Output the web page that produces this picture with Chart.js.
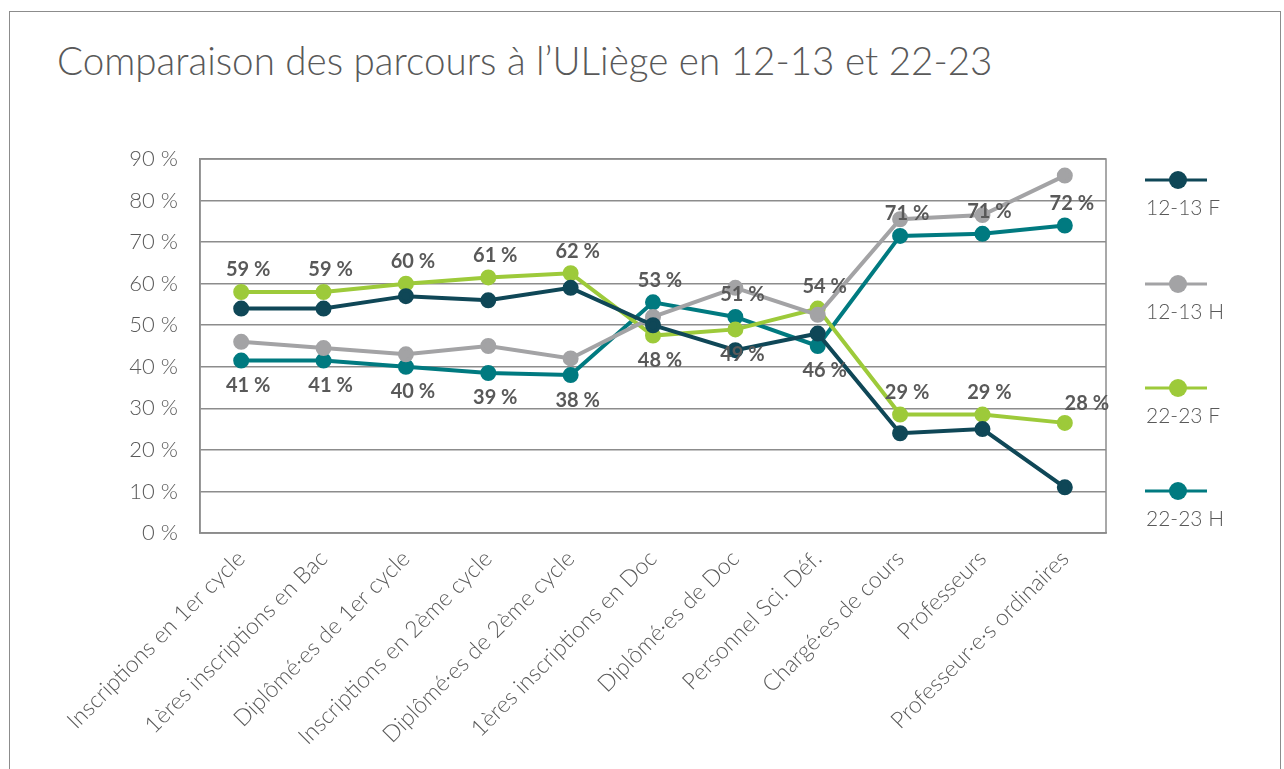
<!DOCTYPE html>
<html>
<head>
<meta charset="utf-8">
<script src="https://cdn.jsdelivr.net/npm/chart.js@4/dist/chart.umd.min.js"></script>
<style>
  html, body { margin: 0; padding: 0; background: #fff; }
  body { width: 1284px; height: 769px; position: relative; overflow: hidden; }
  #frame { position: absolute; left: 9px; top: 11px; width: 1270px; height: 800px; border: 1px solid #8c8c8c; }
  #title { position: absolute; left: 57px; top: 37px; font-family: Lato, sans-serif; font-weight: 300;
           font-size: 38.6px; color: #595959; white-space: nowrap; }
  #wrap { position: absolute; left: 0; top: 0; width: 1284px; height: 769px; }
</style>
</head>
<body>
<div id="frame"></div>
<div id="title">Comparaison des parcours à l’ULiège en 12-13 et 22-23</div>
<div id="wrap"><canvas id="chart" width="1284" height="769"></canvas></div>
<script>
const categories = [
    'Inscriptions en 1er cycle',
    '1ères inscriptions en Bac',
    'Diplômé·es de 1er cycle',
    'Inscriptions en 2ème cycle',
    'Diplômé·es de 2ème cycle',
    '1ères inscriptions en Doc',
    'Diplômé·es de Doc',
    'Personnel Sci. Déf.',
    'Chargé·es de cours',
    'Professeurs',
    'Professeur·e·s ordinaires'
];

const f1213 = [54, 54, 57, 56, 59, 50, 44, 48, 24, 25, 11];
const h1213 = [46, 44.5, 43, 45, 42, 52, 59, 52.5, 75.5, 76.5, 86];
const f2223 = [58, 58, 60, 61.5, 62.5, 47.5, 49, 54, 28.5, 28.5, 26.5];
const h2223 = [41.5, 41.5, 40, 38.5, 38, 55.5, 52, 45, 71.5, 72, 74];

// value labels as printed on the chart
const f2223Labels = ['59 %', '59 %', '60 %', '61 %', '62 %', '48 %', '49 %', '54 %', '29 %', '29 %', '28 %'];
const h2223Labels = ['41 %', '41 %', '40 %', '39 %', '38 %', '53 %', '51 %', '46 %', '71 %', '71 %', '72 %'];

const yTicks = [0, 10, 20, 30, 40, 50, 60, 70, 80, 90];

const C_DARK = '#0f4757';
const C_GREY = '#a3a3a5';
const C_GREEN = '#9dca3a';
const C_TEAL = '#007a80';
const TEXT = '#595959';

function series(label, data, color, labels, place) {
    return {
        label: label,
        data: data,
        borderColor: color,
        backgroundColor: color,
        pointBackgroundColor: color,
        pointBorderColor: color,
        borderWidth: 4,
        pointRadius: 6,
        pointHoverRadius: 6,
        tension: 0,
        valueLabels: labels,
        labelPlace: place
    };
}

// t = above, b = below, tr = above right
const greenPlace = ['t', 't', 't', 't', 't', 'b', 'b', 't', 't', 't', 'tr'];
const tealPlace = ['b', 'b', 'b', 'b', 'b', 't', 't', 'b', 't', 't', 't'];

const valueLabels = {
    id: 'valueLabels',
    afterDatasetsDraw(chart) {
        const ctx = chart.ctx;
        ctx.save();
        ctx.font = 'bold 20px Lato, sans-serif';
        ctx.fillStyle = TEXT;
        ctx.textAlign = 'center';
        ctx.textBaseline = 'middle';
        chart.data.datasets.forEach((ds, i) => {
            if (!ds.valueLabels) return;
            const meta = chart.getDatasetMeta(i);
            meta.data.forEach((pt, j) => {
                const p = ds.labelPlace[j];
                let dx = 7, dy = -22;
                if (p === 'b') dy = 25;
                if (p === 'tr') { dx = 22; dy = -19; }
                ctx.fillText(ds.valueLabels[j], pt.x + dx, pt.y + dy);
            });
        });
        ctx.restore();
    }
};

const sideLegend = {
    id: 'sideLegend',
    afterDraw(chart) {
        const ctx = chart.ctx;
        const rows = [180, 284, 388, 491];
        ctx.save();
        chart.data.datasets.forEach((ds, i) => {
            const y = rows[i];
            ctx.strokeStyle = ds.borderColor;
            ctx.lineWidth = 3;
            ctx.beginPath();
            ctx.moveTo(1145, y);
            ctx.lineTo(1207, y);
            ctx.stroke();
            ctx.fillStyle = ds.borderColor;
            ctx.beginPath();
            ctx.arc(1178, y, 9, 0, Math.PI * 2);
            ctx.fill();
            ctx.fillStyle = TEXT;
            ctx.font = '300 21px Lato, sans-serif';
            ctx.textAlign = 'left';
            ctx.textBaseline = 'middle';
            ctx.fillText(ds.label, 1146, y + 28);
        });
        ctx.restore();
    }
};

const plotFrame = {
    id: 'plotFrame',
    beforeDatasetsDraw(chart) {
        const a = chart.chartArea;
        const ctx = chart.ctx;
        ctx.save();
        ctx.strokeStyle = '#8c8c8c';
        ctx.lineWidth = 1.5;
        ctx.strokeRect(a.left, a.top, a.right - a.left, a.bottom - a.top);
        ctx.restore();
    }
};

new Chart(document.getElementById('chart'), {
    type: 'line',
    data: {
        labels: categories,
        datasets: [
            series('12-13 F', f1213, C_DARK),
            series('12-13 H', h1213, C_GREY),
            series('22-23 F', f2223, C_GREEN, f2223Labels, greenPlace),
            series('22-23 H', h2223, C_TEAL, h2223Labels, tealPlace)
        ]
    },
    options: {
        responsive: false,
        animation: false,
        layout: { padding: { left: 0, top: 159, right: 178, bottom: 0 } },
        plugins: {
            legend: { display: false },
            tooltip: { enabled: false }
        },
        scales: {
            x: {
                offset: true,
                grid: { display: false, drawTicks: false },
                border: { display: true, color: '#8c8c8c', width: 1.5 },
                afterFit: scale => { scale.height = 769 - 533; },
                ticks: {
                    autoSkip: false,
                    minRotation: 45,
                    maxRotation: 45,
                    padding: 12,
                    color: TEXT,
                    font: { family: 'Lato, sans-serif', weight: 300, size: 23 }
                }
            },
            y: {
                min: 0,
                max: 90,
                afterFit: scale => { scale.width = 200; },
                afterBuildTicks: scale => { scale.ticks = yTicks.map(v => ({ value: v })); },
                grid: { color: '#8c8c8c', lineWidth: 1.5, drawTicks: false },
                border: { display: true, color: '#8c8c8c', width: 1.5 },
                ticks: {
                    padding: 22,
                    color: TEXT,
                    font: { family: 'Lato, sans-serif', weight: 300, size: 22 },
                    callback: v => v + ' %'
                }
            }
        }
    },
    plugins: [plotFrame, valueLabels, sideLegend]
});
</script>
</body>
</html>
